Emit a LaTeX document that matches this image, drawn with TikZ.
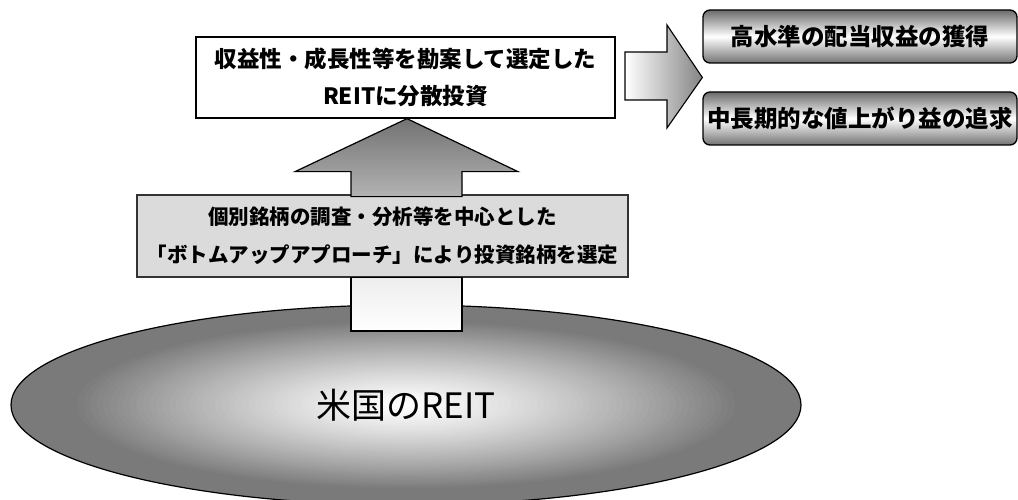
\documentclass[tikz,border=0pt]{standalone}
\usepackage{fontspec}
\newfontfamily\jp{Noto Sans CJK JP}
\usetikzlibrary{shapes.geometric,calc}
\tikzset{
  plainbox/.style={draw=black, line width=1.3pt, fill=white, inner sep=0pt, align=center},
  greybox/.style={draw=black!80, line width=1.4pt, fill=black!14, inner sep=0pt, align=center},
  resultbox/.style={draw=black, line width=1.3pt, rounded corners=7pt, top color=black!58, bottom color=black!55, middle color=white, inner sep=0pt, minimum width=314pt, minimum height=53pt, font=\jp\bfseries\fontsize{23.5}{28}\selectfont},
  uparrowshape/.style={draw=black, line width=1.2pt, top color=black!55, bottom color=black!30},
  lowshaft/.style={draw=black, line width=1.2pt, top color=black!7, bottom color=white},
  rightarrowshape/.style={draw=black, line width=1.1pt, left color=white, right color=black!48},
}
\begin{document}
\begin{tikzpicture}[x=1pt,y=-1pt,font=\jp]
\useasboundingbox (0,0) rectangle (1018,500);
% radial grey-to-white fill of the base ellipse
\coordinate (uc) at (406,405);
\foreach \i in {60,59,...,1}{
  \pgfmathsetmacro{\t}{\i/60}
  \pgfmathsetmacro{\p}{min(52,64*\t^1.25)}
  \fill[black!\p] (uc) ellipse [x radius=395*\t, y radius=100*\t];
}
% base ellipse
\node[ellipse, draw=black, line width=1.2pt, minimum width=790pt, minimum height=200pt, inner sep=0pt, font=\jp\fontsize{35}{40}\selectfont] (us) at (uc) {米国のREIT};
% middle box and top box
\node[greybox, minimum width=491pt, minimum height=82pt, font=\jp\bfseries\fontsize{20.5}{38}\selectfont] (mid) at (382.5,236) {個別銘柄の調査・分析等を中心とした\\「ボトムアップアプローチ」により投資銘柄を選定};
\node[plainbox, minimum width=419pt, minimum height=81pt, font=\jp\bfseries\fontsize{22.5}{37}\selectfont] (top) at (405.5,77.5) {収益性・成長性等を勘案して選定した\\REITに分散投資};
% lower shaft from ellipse to middle box
\draw[lowshaft] (mid.south -| 351,0) rectangle (462,331);
% up arrow from middle box to top box
\path (top.south) ++(1.5,0) coordinate (tip);
\draw[uparrowshape] (tip) -- ++(111,53) -- ++(-56,0) -- ++(0,25) -- ++(-111,0) -- ++(0,-25) -- ++(-56,0) -- cycle;
% result boxes
\node[resultbox] (r1) at (860,36.5) {高水準の配当収益の獲得};
\node[resultbox] (r2) at (860,118.5) {中長期的な値上がり益の追求};
% right arrow, tip between the two result boxes
\coordinate (rtip) at ($(r1.south west)!0.5!(r2.north west)$);
\draw[rightarrowshape] (625,52) -- (667,52) -- (667,25) -- (rtip) -- (667,128) -- (667,100) -- (625,100) -- cycle;
\end{tikzpicture}
\end{document}
